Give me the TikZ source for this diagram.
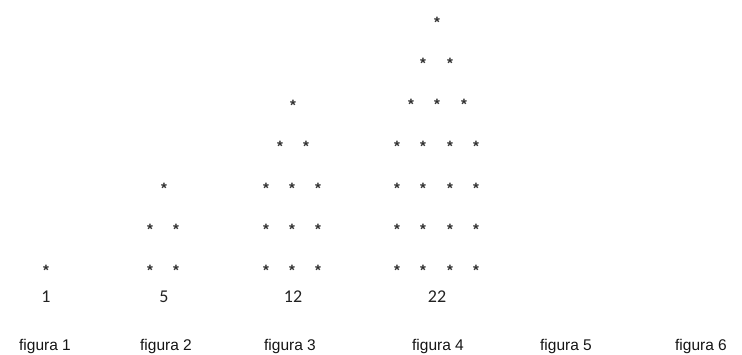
\documentclass[tikz,border=0pt]{standalone}
\usepackage{fontspec}
\setmainfont{Liberation Sans}
\newfontfamily\numfont{Carlito}
\definecolor{stargray}{HTML}{2E2E2E}
\definecolor{numgray}{HTML}{222222}
\definecolor{labgray}{HTML}{151515}
\begin{document}
\begin{tikzpicture}[x=1pt,y=-1pt,
  starnode/.style={anchor=base,inner sep=0pt,text=stargray,font=\bfseries\fontsize{15}{15}\selectfont,yshift=-8.6pt},
  numnode/.style={anchor=center,inner sep=0pt,text=numgray,font=\numfont\fontsize{18}{18}\selectfont},
  labnode/.style={anchor=center,inner sep=0pt,text=labgray,font=\fontsize{15.5}{16}\selectfont}]
\useasboundingbox (0,0) rectangle (742,354);
% figure 1
\node[starnode] (s1a) at (46,267) {*};
% figure 2
\node[starnode] (s2a) at (164,185) {*};
\foreach \x [count=\i] in {150,176}{
  \node[starnode] (s2b\i) at (\x,226) {*};
  \node[starnode] (s2c\i) at (\x,267) {*};
}
% figure 3
\node[starnode] (s3a) at (293,102) {*};
\foreach \x [count=\i] in {280,306}
  \node[starnode] (s3b\i) at (\x,143) {*};
\foreach \x [count=\i] in {266,292,318}{
  \node[starnode] (s3c\i) at (\x,185) {*};
  \node[starnode] (s3d\i) at (\x,226) {*};
  \node[starnode] (s3e\i) at (\x,267) {*};
}
% figure 4
\node[starnode] (s4a) at (437,19) {*};
\foreach \x [count=\i] in {423,450}
  \node[starnode] (s4b\i) at (\x,60) {*};
\foreach \x [count=\i] in {411,437,464}
  \node[starnode] (s4c\i) at (\x,101) {*};
\foreach \x [count=\i] in {397,423,450,476}{
  \node[starnode] (s4d\i) at (\x,143) {*};
  \node[starnode] (s4e\i) at (\x,185) {*};
  \node[starnode] (s4f\i) at (\x,226) {*};
  \node[starnode] (s4g\i) at (\x,267) {*};
}
% numbers
\node[numnode] (n1) at (46,297) {1};
\node[numnode] (n2) at (164,297) {5};
\node[numnode] (n3) at (293,297) {12};
\node[numnode] (n4) at (437,297) {22};
% labels
\node[labnode] (f1) at (45,346) {figura 1};
\node[labnode] (f2) at (166,346) {figura 2};
\node[labnode] (f3) at (290,346) {figura 3};
\node[labnode] (f4) at (438,346) {figura 4};
\node[labnode] (f5) at (566,346) {figura 5};
\node[labnode] (f6) at (701,346) {figura 6};
\end{tikzpicture}
\end{document}
